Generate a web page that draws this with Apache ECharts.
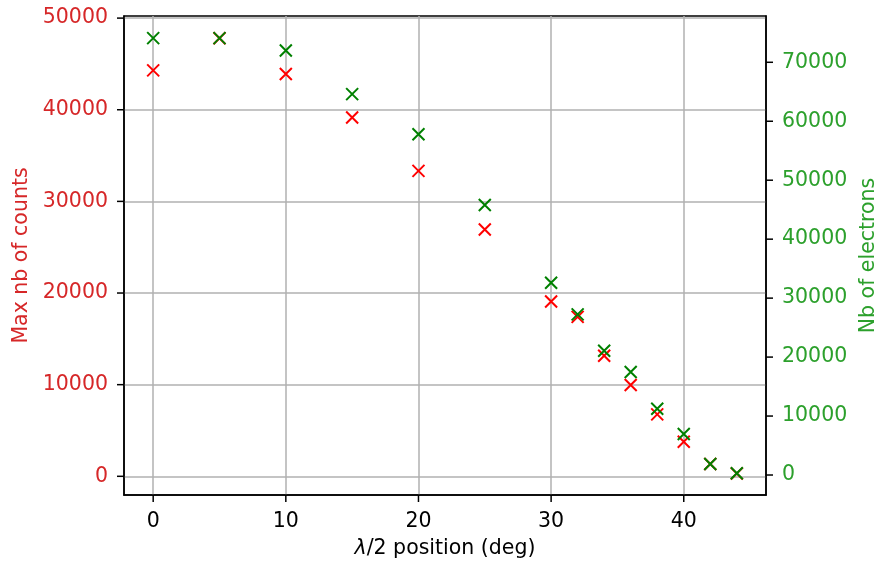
<!DOCTYPE html>
<html>
<head>
<meta charset="utf-8">
<script src="https://cdn.jsdelivr.net/npm/echarts@6/dist/echarts.min.js"></script>
<style>
  html, body { margin: 0; padding: 0; background: #fff; }
  #chart { width: 877px; height: 565px; }
</style>
</head>
<body>
<div id="chart"></div>
<script>
// half-wave plate positions (deg)
var positions = [0, 5, 10, 15, 20, 25, 30, 32, 34, 36, 38, 40, 42, 44];
// max nb of counts (left axis)
var counts = [44300, 47800, 43900, 39150, 33330, 26940, 19080, 17400, 13150, 9960, 6760, 3770, 1340, 300];
// nb of electrons (right axis)
var electrons = [74100, 74100, 72000, 64600, 57800, 45800, 32600, 27240, 21070, 17460, 11240, 6950, 1860, 300];

var xTicks = [0, 10, 20, 30, 40];
var countTicks = [0, 10000, 20000, 30000, 40000, 50000];
var electronTicks = [0, 10000, 20000, 30000, 40000, 50000, 60000, 70000];

var xRange = [-2.2, 46.2];
var countRange = [-2040, 50230];
var electronRange = [-3390, 77850];

var font = 'DejaVu Sans';
var fs = 20.5;
var cross = 'path://M0,0L10,10M10,0L0,10';

function pairs(xs, ys) {
  return xs.map(function (x, i) { return [x, ys[i]]; });
}
function plain(v) { return String(v); }

var chart = echarts.init(document.getElementById('chart'));

var blackLine = { color: '#000', width: 1.5 };
var gridLine = { color: '#b0b0b0', width: 1.5 };

function label(color, values) {
  return { fontFamily: font, fontSize: fs, color: color, margin: 16, customValues: values, formatter: plain };
}

var option = {
  animation: false,
  grid: {
    left: 124, right: 111, top: 16, bottom: 70,
    outerBoundsMode: 'none', containLabel: false,
    show: true, borderColor: '#000', borderWidth: 1.5, backgroundColor: 'transparent'
  },
  xAxis: {
    type: 'value', min: xRange[0], max: xRange[1],
    name: '{i|λ}/2 position (deg)',
    nameLocation: 'middle', nameGap: 43,
    nameTextStyle: {
      fontFamily: font, fontSize: fs, color: '#000',
      rich: { i: { fontFamily: font, fontSize: fs, fontStyle: 'italic', color: '#000' } }
    },
    axisLine: { show: true, onZero: false, lineStyle: blackLine },
    axisTick: { show: false, customValues: xTicks },
    axisLabel: label('#000', xTicks),
    splitLine: { show: true, lineStyle: gridLine }
  },
  yAxis: [
    {
      type: 'value', position: 'left', min: countRange[0], max: countRange[1],
      name: 'Max nb of counts', nameLocation: 'middle', nameGap: 88, nameRotate: 90,
      nameTextStyle: { fontFamily: font, fontSize: fs, color: '#d62728' },
      axisLine: { show: true, onZero: false, lineStyle: blackLine },
      axisTick: { show: false, customValues: countTicks },
      axisLabel: label('#d62728', countTicks),
      splitLine: { show: true, lineStyle: gridLine }
    },
    {
      type: 'value', position: 'right', min: electronRange[0], max: electronRange[1],
      name: 'Nb of electrons', nameLocation: 'middle', nameGap: 90, nameRotate: 90,
      nameTextStyle: { fontFamily: font, fontSize: fs, color: '#2ca02c' },
      axisLine: { show: true, onZero: false, lineStyle: blackLine },
      axisTick: { show: false, customValues: electronTicks },
      axisLabel: label('#2ca02c', electronTicks),
      splitLine: { show: false }
    }
  ],
  series: [
    {
      name: 'counts', type: 'scatter', yAxisIndex: 0,
      symbol: cross, symbolSize: 12,
      itemStyle: { color: 'transparent', borderColor: '#ff0000', borderWidth: 2, opacity: 1 },
      data: pairs(positions, counts)
    },
    {
      name: 'electrons', type: 'scatter', yAxisIndex: 1,
      symbol: cross, symbolSize: 12,
      itemStyle: { color: 'transparent', borderColor: '#008000', borderWidth: 2, opacity: 1 },
      data: pairs(positions, electrons)
    }
  ]
};

chart.setOption(option);

// one axis coordinate through the chart's own scale
function axisPx(finder, value) {
  var p = chart.convertToPixel(finder, value);
  if (Array.isArray(p)) p = p[0];
  return p;
}

// outward tick marks
var tickLen = 7;
function tick(x1, y1, x2, y2) {
  return {
    type: 'line', silent: true, z: 100,
    shape: { x1: x1, y1: y1, x2: x2, y2: y2 },
    style: { stroke: '#000', lineWidth: 1.5 }
  };
}

var bottomY = axisPx({ yAxisIndex: 0 }, countRange[0]);
var leftX = axisPx({ xAxisIndex: 0 }, xRange[0]);
var rightX = axisPx({ xAxisIndex: 0 }, xRange[1]);

var marks = [];
xTicks.forEach(function (v) {
  var x = axisPx({ xAxisIndex: 0 }, v);
  marks.push(tick(x, bottomY, x, bottomY + tickLen));
});
countTicks.forEach(function (v) {
  var y = axisPx({ yAxisIndex: 0 }, v);
  marks.push(tick(leftX - tickLen, y, leftX, y));
});
electronTicks.forEach(function (v) {
  var y = axisPx({ yAxisIndex: 1 }, v);
  marks.push(tick(rightX, y, rightX + tickLen, y));
});

chart.setOption({ graphic: { elements: marks } });
</script>
</body>
</html>
